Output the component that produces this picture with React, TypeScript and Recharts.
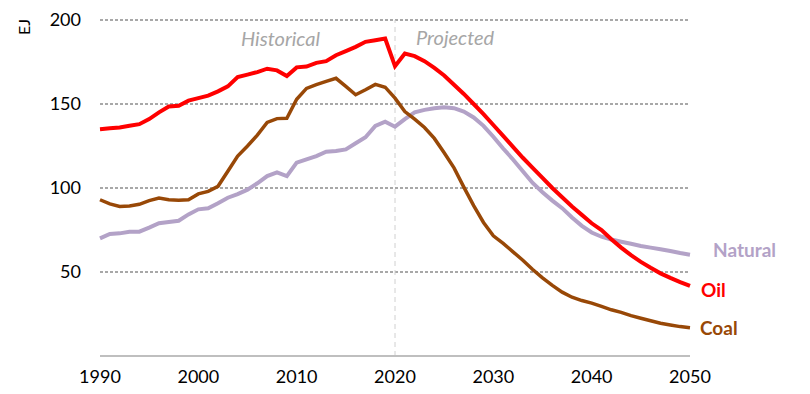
import React from 'react';
import { LineChart, Line, XAxis, YAxis, CartesianGrid, ReferenceLine } from 'recharts';

const years = [
  1990, 1991, 1992, 1993, 1994, 1995, 1996, 1997, 1998, 1999,
  2000, 2001, 2002, 2003, 2004, 2005, 2006, 2007, 2008, 2009,
  2010, 2011, 2012, 2013, 2014, 2015, 2016, 2017, 2018, 2019,
  2020, 2021, 2022, 2023, 2024, 2025, 2026, 2027, 2028, 2029,
  2030, 2031, 2032, 2033, 2034, 2035, 2036, 2037, 2038, 2039,
  2040, 2041, 2042, 2043, 2044, 2045, 2046, 2047, 2048, 2049, 2050,
];

const oil = [
  135, 135.5, 136, 137, 138, 141, 145, 148.5, 149, 152,
  153.5, 155, 157.5, 160.5, 166, 167.5, 169, 171, 170, 166.7,
  171.8, 172.3, 174.5, 175.5, 179, 181.5, 184, 187, 188, 189,
  172.5, 180, 178.5, 175.5, 171.5, 167, 161.5, 156, 150, 144,
  137.5, 131, 124.5, 118, 112, 106, 100, 94.5, 89, 84,
  79, 75, 69.5, 64.5, 60, 56, 52.5, 49.2, 46.5, 44, 41.7,
];

const coal = [
  93, 90.5, 89, 89.3, 90.3, 92.5, 94, 93, 92.7, 93,
  96.5, 98, 101, 110, 119, 125, 131.5, 139, 141.3, 141.5,
  152.8, 159.3, 161.5, 163.5, 165.3, 160.5, 155.5, 158.5, 161.7, 160,
  153.5, 145.5, 141, 136, 129.5, 121, 112, 100.5, 89.5, 79.5,
  71.5, 67, 62, 57, 51.5, 46.5, 42, 38, 35, 33,
  31.5, 29.5, 27.5, 26, 24, 22.5, 21, 19.5, 18.5, 17.5, 16.8,
];

const gas = [
  70, 72.6, 73, 74, 74, 76.4, 79, 79.8, 80.5, 84.3,
  87.3, 87.9, 90.9, 94.2, 96.4, 99, 102.8, 107.1, 109.3, 107.1,
  115.1, 117.1, 119, 121.6, 122, 123, 126.6, 130.2, 136.9, 139.5,
  136.5, 141, 145, 146.5, 147.5, 148, 147.5, 145.5, 142, 137,
  130.5, 123.5, 117, 110, 103, 97.5, 92.5, 88, 82.5, 77.5,
  73.5, 71, 69.3, 68, 66.8, 65.5, 64.5, 63.5, 62.5, 61.3, 60.3,
];

const xTicks = [1990, 2000, 2010, 2020, 2030, 2040, 2050];
const yTicks = [50, 100, 150, 200];
const dividerYear = 2020;

const data = years.map((y, i) => ({ year: y, oil: oil[i], coal: coal[i], gas: gas[i] }));

const FONT = 'Lato, "Open Sans", sans-serif';

const endLabel = (text: string, color: string, dx: number, dy: number) => (props: any) => {
  const { x, y, index } = props;
  if (index !== years.length - 1) return null;
  return (
    <text x={x + dx} y={y + dy} fill={color} fontFamily={FONT} fontWeight={700} fontSize={19} dominantBaseline="central">
      {text}
    </text>
  );
};

export default function App() {
  return (
    <div style={{ position: 'absolute', left: 0, top: 0, width: 810, height: 394, background: '#fff' }}>
      <LineChart width={810} height={394} data={data} margin={{ top: 20, right: 120, bottom: 8, left: 0 }}>
        <CartesianGrid horizontal={true} vertical={false} stroke="#8c8c8c" strokeDasharray="3 2" strokeWidth={1.5} />
        <XAxis
          dataKey="year"
          type="number"
          domain={[1990, 2050]}
          ticks={xTicks}
          height={30}
          tickSize={0}
          tickMargin={14}
          axisLine={{ stroke: '#bfbfbf', strokeWidth: 2 }}
          tick={{ fill: '#000', fontSize: 18, fontFamily: FONT }}
          interval={0}
        />
        <YAxis
          type="number"
          domain={[0, 200]}
          ticks={yTicks}
          width={100}
          tickSize={0}
          tickMargin={19}
          axisLine={false}
          tick={{ fill: '#000', fontSize: 18, fontFamily: FONT }}
          interval={0}
        />
        <ReferenceLine x={dividerYear} stroke="#d0d0d0" strokeDasharray="5 4" strokeWidth={1} />
        <Line type="linear" dataKey="gas" stroke="#b3a2c7" strokeWidth={4} dot={false} isAnimationActive={false}
          label={endLabel('Natural', '#b3a2c7', 23, -5)} />
        <Line type="linear" dataKey="coal" stroke="#984807" strokeWidth={3.5} dot={false} isAnimationActive={false}
          label={endLabel('Coal', '#984807', 10, 0)} />
        <Line type="linear" dataKey="oil" stroke="#ff0000" strokeWidth={4} dot={false} isAnimationActive={false}
          label={endLabel('Oil', '#ff0000', 11, 4)} />
      </LineChart>
      <div style={{ position: 'absolute', left: 15, top: 18, width: 18, height: 18, display: 'flex', alignItems: 'center', justifyContent: 'center' }}>
        <span style={{ transform: 'rotate(-90deg)', fontFamily: FONT, fontSize: 16, color: '#000', whiteSpace: 'nowrap', lineHeight: 1 }}>EJ</span>
      </div>
      <div style={{ position: 'absolute', left: 241, top: 28, fontFamily: FONT, fontStyle: 'italic', fontSize: 20, color: '#a6a6a6', lineHeight: 1, whiteSpace: 'nowrap' }}>Historical</div>
      <div style={{ position: 'absolute', left: 416, top: 27, fontFamily: FONT, fontStyle: 'italic', fontSize: 20, color: '#a6a6a6', lineHeight: 1, whiteSpace: 'nowrap' }}>Projected</div>
    </div>
  );
}
